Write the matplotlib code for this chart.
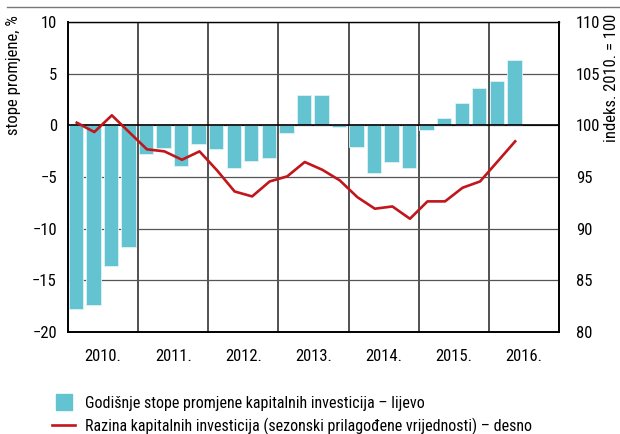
import matplotlib
matplotlib.use("Agg")
import matplotlib.pyplot as plt
from matplotlib import font_manager
from matplotlib.lines import Line2D
import numpy as np

# pick a narrow font if one is installed
available = {f.name for f in font_manager.fontManager.ttflist}
narrow = [n for n in ['Liberation Sans Narrow', 'Roboto Condensed', 'DejaVu Sans Condensed', 'Roboto']
          if n in available]
plt.rcParams['font.family'] = narrow[:1] + ['DejaVu Sans']
if narrow and narrow[0] == 'DejaVu Sans Condensed':
    plt.rcParams['font.stretch'] = 'condensed'
plt.rcParams['font.size'] = 12

years = [2010, 2011, 2012, 2013, 2014, 2015, 2016]
year_labels = ['2010.', '2011.', '2012.', '2013.', '2014.', '2015.', '2016.']

# quarterly data, 2010 Q1 .. 2016 Q2
growth = [-17.8, -17.4, -13.6, -11.8,
          -2.75, -2.2, -3.95, -1.8,
          -2.3, -4.1, -3.45, -3.15,
          -0.7, 2.95, 2.9, -0.15,
          -2.1, -4.6, -3.55, -4.15,
          -0.45, 0.75, 2.15, 3.6,
          4.25, 6.3]
level = [100.26, 99.35, 100.97, 99.32,
         97.68, 97.48, 96.67, 97.48,
         95.64, 93.6, 93.12, 94.57,
         95.06, 96.45, 95.7, 94.67,
         93.05, 91.93, 92.15, 90.96,
         92.64, 92.64, 93.96, 94.57,
         96.51, 98.45]

bar_color = '#64C3D0'
line_color = '#C0161C'

x = 2010 + (np.arange(len(growth)) + 0.5) / 4

fig = plt.figure(figsize=(6.2, 4.34), dpi=100)
ax = fig.add_axes([68/620, 1-332/434, 491/620, 310/434])

ax.bar(x - 0.012, growth, width=0.205, color=bar_color, edgecolor='#dff3f6', linewidth=0.6, zorder=3)

ax.set_xlim(2010, 2017)
ax.set_ylim(-20, 10)
ax.set_yticks(range(-20, 11, 5))
ax.set_yticklabels([str(v).replace('-', '\u2212') for v in range(-20, 11, 5)])
ax.set_xticks(years[1:])
ax.set_xticklabels([])
ax.set_xticks([y + 0.5 for y in years], minor=True)
ax.set_xticklabels(year_labels, minor=True)
ax.tick_params(axis='both', which='both', length=0)
ax.tick_params(axis='x', which='minor', pad=12)
ax.tick_params(axis='y', pad=8)

ax.grid(axis='x', color='#222222', linewidth=1.1, zorder=1)
ax.grid(axis='y', color='#555555', linewidth=0.9, zorder=1)
ax.axhline(0, color='black', linewidth=1.2, zorder=4)
for s in ['left', 'bottom', 'right', 'top']:
    ax.spines[s].set_color('black')
    ax.spines[s].set_linewidth(1.4)
ax.spines['top'].set_linewidth(1.0)

ax2 = ax.twinx()
ax2.plot(x, level, color=line_color, linewidth=1.9, zorder=5)
ax2.set_ylim(80, 110)
ax2.set_yticks(range(80, 111, 5))
ax2.tick_params(axis='y', length=0, pad=12)
for s in ['left', 'bottom', 'right', 'top']:
    ax2.spines[s].set_visible(False)

fig.text(14/620, 1-15/434, 'stope promjene, %', rotation=90, ha='center', va='top')
fig.text(612/620, 1-14/434, 'indeks. 2010. = 100', rotation=90, ha='center', va='top')

fig.add_artist(Line2D([7/620, 1], [1-7/434, 1-7/434], color='#777777', linewidth=1.0))

handles = [Line2D([], [], marker='s', linestyle='none', markersize=11, color=bar_color),
           Line2D([], [], color=line_color, linewidth=1.9)]
labels = ['Godišnje stope promjene kapitalnih investicija \u2013 lijevo',
          'Razina kapitalnih investicija (sezonski prilagođene vrijednosti) \u2013 desno']
fig.legend(handles, labels, loc='upper left', bbox_to_anchor=(52/620, 1-396/434),
           frameon=False, fontsize=11.5, handlelength=1.45, handletextpad=0.6, labelspacing=0.4,
           borderaxespad=0, borderpad=0)

fig.savefig('out.png', dpi=100)
